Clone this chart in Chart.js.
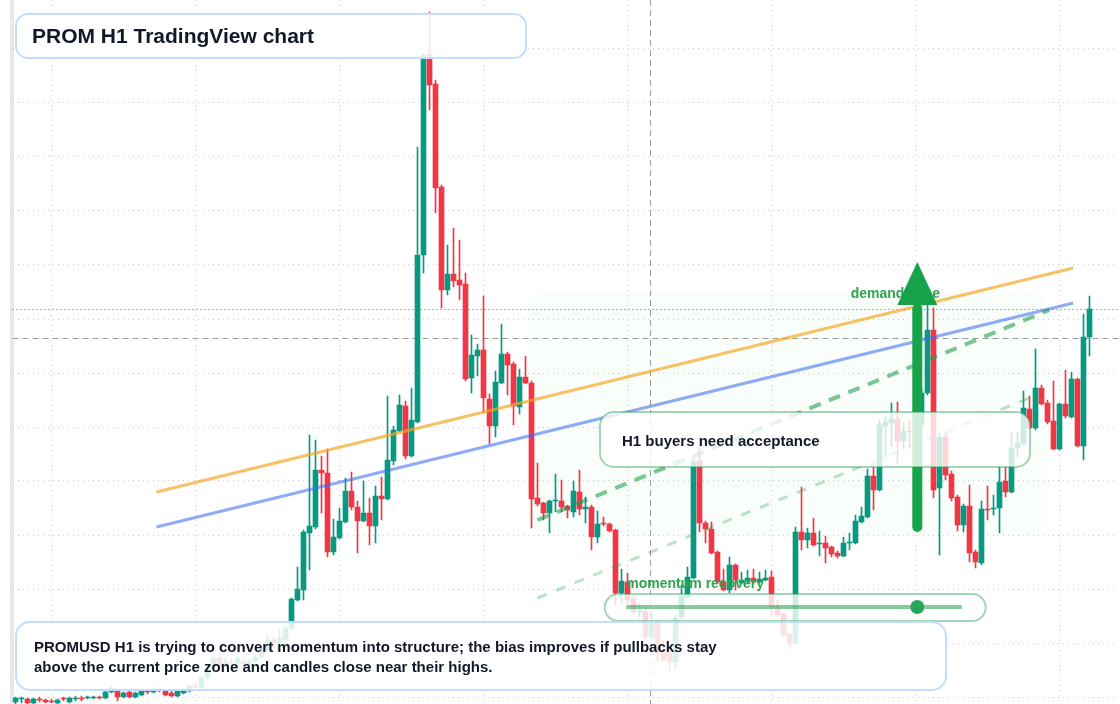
<!DOCTYPE html>
<html>
<head>
<meta charset="utf-8">
<title>PROM H1 TradingView chart</title>
<script src="https://cdn.jsdelivr.net/npm/chart.js@4.4.1/dist/chart.umd.min.js"></script>
<style>
  html, body { margin: 0; padding: 0; background: #ffffff; }
  #chart { display: block; }
</style>
</head>
<body>
<canvas id="chart" width="1120" height="704"></canvas>
<script>
// PROMUSD H1 candles, oldest first
let opens = [
  2.02, 2.05, 2.05, 2.01, 2.05, 2.04, 2.03, 2.01, 2.06, 2.02,
  2.05, 2.06, 2.06, 2.06, 2.07, 2.06, 2.12, 2.13, 2.07, 2.12,
  2.07, 2.09, 2.13, 2.12, 2.15, 2.13, 2.11, 2.08, 2.11, 2.13,
  2.18, 2.17, 2.26, 2.37, 2.46, 2.39, 2.41, 2.39, 2.42, 2.39,
  2.43, 2.47, 2.54, 2.64, 2.61, 2.64, 2.76, 3.04, 3.14, 3.71,
  3.77, 4.34, 4.31, 3.52, 3.66, 3.82, 4.13, 3.97, 3.83, 3.91,
  3.78, 4.08, 4.05, 4.43, 4.73, 4.98, 4.48, 4.82, 6.49, 8.51,
  8.20, 7.17, 6.14, 6.30, 6.24, 6.20, 5.26, 5.48, 5.54, 5.05,
  4.78, 5.21, 5.50, 5.40, 4.97, 5.27, 5.21, 4.06, 4.01, 3.91,
  4.03, 4.03, 3.98, 3.92, 4.12, 3.95, 3.97, 3.67, 3.81, 3.80,
  3.74, 3.11, 3.22, 3.05, 2.92, 2.92, 2.67, 2.82, 2.52, 2.51,
  2.42, 2.87, 3.07, 3.26, 4.43, 3.81, 3.75, 3.52, 3.22, 3.14,
  3.39, 3.21, 3.23, 3.26, 3.22, 3.24, 3.27, 2.97, 2.90, 2.70,
  2.61, 3.72, 3.64, 3.71, 3.60, 3.61, 3.57, 3.51, 3.48, 3.61,
  3.61, 3.82, 3.87, 4.28, 4.14, 4.78, 4.81, 4.85, 4.63, 4.73,
  4.72, 4.79, 5.11, 5.74, 4.16, 4.67, 4.30, 4.07, 3.79, 3.98,
  3.52, 3.41, 3.95, 3.95, 3.96, 4.23, 4.12, 4.56, 4.60, 4.95,
  4.76, 5.16, 5.01, 4.83, 4.55, 5.00, 4.87, 5.25, 4.58, 5.67
]
let highs = [
  2.07, 2.07, 2.06, 2.06, 2.07, 2.05, 2.05, 2.05, 2.07, 2.07,
  2.08, 2.08, 2.08, 2.08, 2.08, 2.13, 2.18, 2.15, 2.12, 2.13,
  2.12, 2.14, 2.15, 2.16, 2.17, 2.15, 2.13, 2.14, 2.15, 2.19,
  2.21, 2.28, 2.34, 2.48, 2.52, 2.47, 2.45, 2.48, 2.45, 2.45,
  2.49, 2.56, 2.69, 2.67, 2.74, 2.78, 3.06, 3.37, 3.74, 4.69,
  4.64, 4.48, 4.55, 3.85, 3.96, 4.26, 4.32, 4.03, 4.23, 4.06,
  4.18, 4.27, 5.08, 4.78, 5.09, 5.03, 5.16, 7.57, 8.51, 8.92,
  8.24, 7.19, 6.59, 6.76, 6.64, 6.31, 5.69, 5.60, 6.08, 5.10,
  5.33, 5.80, 5.52, 5.42, 5.35, 5.48, 5.23, 4.41, 4.02, 4.04,
  4.30, 4.24, 3.99, 4.23, 4.34, 4.07, 3.99, 3.93, 3.87, 3.81,
  3.75, 3.35, 3.31, 3.08, 3.01, 2.97, 2.91, 2.84, 2.64, 2.54,
  2.89, 3.19, 3.37, 4.47, 4.58, 3.83, 3.82, 3.53, 3.35, 3.47,
  3.40, 3.32, 3.34, 3.35, 3.32, 3.34, 3.33, 3.04, 2.91, 2.71,
  3.77, 4.17, 3.76, 3.86, 3.73, 3.68, 3.58, 3.53, 3.67, 3.71,
  3.89, 3.97, 4.35, 4.41, 4.84, 4.88, 5.01, 5.02, 4.81, 4.84,
  4.89, 5.16, 5.99, 5.96, 4.71, 4.71, 4.33, 4.09, 4.00, 4.19,
  3.54, 4.03, 4.18, 4.09, 4.37, 4.37, 4.71, 4.72, 5.13, 5.08,
  5.55, 5.19, 5.04, 5.23, 5.01, 5.34, 5.32, 5.26, 5.90, 6.08
]
let lows = [
  2.00, 2.01, 2.00, 2.00, 2.02, 2.01, 2.01, 2.00, 2.03, 2.01,
  2.03, 2.03, 2.05, 2.05, 2.05, 2.05, 2.11, 2.03, 2.06, 2.06,
  2.06, 2.08, 2.10, 2.11, 2.12, 2.08, 2.07, 2.07, 2.10, 2.12,
  2.16, 2.15, 2.24, 2.36, 2.35, 2.37, 2.39, 2.38, 2.36, 2.38,
  2.42, 2.46, 2.52, 2.56, 2.59, 2.62, 2.74, 3.03, 3.04, 3.34,
  3.75, 3.91, 3.47, 3.49, 3.65, 3.81, 3.94, 3.51, 3.82, 3.59,
  3.61, 3.84, 4.04, 4.39, 4.72, 4.45, 4.47, 4.81, 6.31, 7.94,
  6.91, 5.96, 6.09, 6.17, 6.04, 5.23, 5.11, 5.28, 4.91, 4.60,
  4.67, 5.20, 5.09, 4.79, 4.90, 5.20, 3.76, 3.98, 3.84, 3.71,
  3.92, 3.92, 3.86, 3.87, 3.89, 3.81, 3.54, 3.61, 3.78, 3.72,
  2.99, 3.01, 3.00, 2.90, 2.87, 2.64, 2.64, 2.42, 2.43, 2.32,
  2.34, 2.86, 3.06, 3.25, 3.72, 3.61, 3.50, 3.21, 3.13, 3.11,
  3.14, 3.20, 3.21, 3.20, 3.21, 3.23, 2.89, 2.87, 2.67, 2.57,
  2.60, 3.54, 3.56, 3.58, 3.48, 3.41, 3.47, 3.46, 3.47, 3.54,
  3.60, 3.81, 3.86, 3.94, 4.13, 4.47, 4.58, 4.41, 4.55, 4.56,
  4.64, 4.74, 5.09, 4.06, 3.49, 4.24, 4.03, 3.73, 3.72, 3.42,
  3.36, 3.39, 3.84, 3.89, 3.71, 4.07, 4.11, 4.47, 4.59, 4.75,
  4.74, 4.99, 4.80, 4.54, 4.54, 4.86, 4.86, 4.57, 4.44, 5.48
]
let closes = [
  2.06, 2.06, 2.01, 2.05, 2.04, 2.02, 2.02, 2.04, 2.05, 2.06,
  2.06, 2.05, 2.07, 2.07, 2.06, 2.12, 2.16, 2.07, 2.11, 2.07,
  2.11, 2.13, 2.12, 2.15, 2.14, 2.09, 2.08, 2.13, 2.13, 2.18,
  2.17, 2.26, 2.32, 2.46, 2.37, 2.42, 2.42, 2.46, 2.40, 2.43,
  2.47, 2.54, 2.64, 2.61, 2.66, 2.76, 3.05, 3.15, 3.72, 3.78,
  4.34, 4.31, 3.52, 3.67, 3.83, 4.13, 3.97, 3.83, 3.91, 3.78,
  4.08, 4.05, 4.44, 4.74, 4.99, 4.48, 4.84, 6.49, 8.49, 8.19,
  7.16, 6.14, 6.30, 6.23, 6.19, 5.25, 5.49, 5.54, 5.06, 4.78,
  5.22, 5.50, 5.39, 4.98, 5.27, 5.21, 4.05, 4.00, 3.91, 4.03,
  4.04, 3.97, 3.94, 4.13, 3.95, 3.97, 3.67, 3.80, 3.80, 3.73,
  3.11, 3.23, 3.04, 2.92, 2.93, 2.67, 2.82, 2.51, 2.44, 2.42,
  2.86, 3.08, 3.27, 4.42, 3.81, 3.75, 3.51, 3.22, 3.14, 3.39,
  3.24, 3.24, 3.26, 3.22, 3.25, 3.26, 2.97, 2.89, 2.69, 2.61,
  3.72, 3.64, 3.71, 3.59, 3.61, 3.56, 3.50, 3.48, 3.61, 3.62,
  3.83, 3.88, 4.28, 4.14, 4.79, 4.82, 4.85, 4.63, 4.73, 4.72,
  4.79, 5.11, 5.74, 4.14, 4.67, 4.29, 4.06, 3.79, 3.98, 3.51,
  3.42, 3.95, 3.94, 3.96, 4.22, 4.12, 4.56, 4.61, 4.96, 4.76,
  5.16, 5.00, 4.82, 4.55, 5.00, 4.88, 5.25, 4.58, 5.67, 5.95
]

// hourly slots, a few empty ones on the right
let slotCount = 184
let labels = []
let t0 = Date.UTC(2024, 10, 4, 0)
for (let i = 0; i < slotCount; i++) {
    labels.push(new Date(t0 + i * 3600000).toISOString().slice(5, 13).replace("T", " ") + ":00")
}

// grid positions (candle index / price)
let xGridIdx = [6, 30, 54, 78, 102, 126, 150, 174]
let yGridPrices = [8.55, 8.01, 7.47, 6.93, 6.39, 5.85, 5.31, 4.77, 4.23, 3.69, 3.15, 2.61, 2.07]

// drawings in data space: [candle index, price]
let orangeLine = [[23.5, 4.12], [176.3, 6.36]]
let blueLine = [[23.5, 3.77], [176.3, 6.01]]
let greenDash = [[87, 3.84], [172.3, 5.94]]
let greenDashLight = [[87, 3.06], [169, 5.06]]
let demandZone = { x0: 85.2, x1: 172.3, top: 6.12, bottom: 3.69 }
let demandArrow = { idx: 150.3, from: 3.77, head: 5.99, tip: 6.42 }
let momentum = { x0: 98.2, x1: 161.7, top: 3.10, bottom: 2.83, line0: 101.8, line1: 157.7, lineY: 2.97, dot: 150.3, labelY: 3.20 }
let crosshair = { idx: 105.8, price: 5.66 }

let UP = "#089981"
let DOWN = "#f23645"
let FONT = '"Liberation Sans", Arial, sans-serif'

let candleColors = opens.map((o, i) => closes[i] >= o ? UP : DOWN)

function roundRect(ctx, x, y, w, h, r) {
    ctx.beginPath()
    ctx.moveTo(x + r, y)
    ctx.arcTo(x + w, y, x + w, y + h, r)
    ctx.arcTo(x + w, y + h, x, y + h, r)
    ctx.arcTo(x, y + h, x, y, r)
    ctx.arcTo(x, y, x + w, y, r)
    ctx.closePath()
}

function segment(chart, pts, color, width, dash) {
    let { ctx, scales: { x, y } } = chart
    ctx.save()
    ctx.strokeStyle = color
    ctx.lineWidth = width
    ctx.setLineDash(dash || [])
    ctx.beginPath()
    ctx.moveTo(x.getPixelForValue(pts[0][0]), y.getPixelForValue(pts[0][1]))
    ctx.lineTo(x.getPixelForValue(pts[1][0]), y.getPixelForValue(pts[1][1]))
    ctx.stroke()
    ctx.restore()
}

function panel(ctx, x, y, w, h, r, fill, stroke) {
    ctx.save()
    roundRect(ctx, x, y, w, h, r)
    ctx.fillStyle = fill
    ctx.fill()
    ctx.lineWidth = 2
    ctx.strokeStyle = stroke
    ctx.stroke()
    ctx.restore()
}

function text(ctx, str, x, y, font, color) {
    ctx.save()
    ctx.font = font
    ctx.fillStyle = color
    ctx.textBaseline = "middle"
    ctx.textAlign = "left"
    ctx.fillText(str, x, y)
    ctx.restore()
}

let overlay = {
    id: "overlay",
    beforeDraw(chart) {
        let ctx = chart.ctx
        ctx.save()
        ctx.fillStyle = "#ffffff"
        ctx.fillRect(0, 0, chart.width, chart.height)
        ctx.fillStyle = "#e8e8e8"
        ctx.fillRect(10, 0, 4, chart.height)
        ctx.restore()
    },
    beforeDatasetsDraw(chart) {
        let { ctx, chartArea: a, scales: { x, y } } = chart
        ctx.save()
        // demand zone shading
        let zx0 = x.getPixelForValue(demandZone.x0), zx1 = x.getPixelForValue(demandZone.x1)
        let zy0 = y.getPixelForValue(demandZone.top), zy1 = y.getPixelForValue(demandZone.bottom)
        roundRect(ctx, zx0, zy0, zx1 - zx0, zy1 - zy0, 22)
        ctx.fillStyle = "rgba(34,197,94,0.025)"
        ctx.fill()
        // last price line
        let py = Math.round(y.getPixelForValue(closes[closes.length - 1])) + 0.5
        ctx.strokeStyle = UP
        ctx.lineWidth = 1
        ctx.setLineDash([1, 3])
        ctx.beginPath()
        ctx.moveTo(a.left, py)
        ctx.lineTo(a.right + 4, py)
        ctx.stroke()
        // crosshair
        ctx.strokeStyle = "#9a9a9a"
        ctx.setLineDash([6, 4])
        let cy = Math.round(y.getPixelForValue(crosshair.price)) + 0.5
        ctx.beginPath()
        ctx.moveTo(a.left, cy)
        ctx.lineTo(a.right + 4, cy)
        ctx.stroke()
        let cx = Math.round(x.getPixelForValue(crosshair.idx)) + 0.5
        ctx.beginPath()
        ctx.moveTo(cx, a.top)
        ctx.lineTo(cx, a.bottom)
        ctx.stroke()
        ctx.restore()
    },
    afterDatasetsDraw(chart) {
        let { ctx, scales: { x, y } } = chart
        // trend lines
        segment(chart, orangeLine, "rgba(245,166,35,0.7)", 3)
        segment(chart, blueLine, "rgba(59,110,240,0.58)", 3)
        segment(chart, greenDash, "rgba(34,160,80,0.6)", 4, [12, 9])
        segment(chart, greenDashLight, "rgba(34,160,80,0.3)", 3, [10, 10])

        // demand zone label, arrow over it
        text(ctx, "demand zone", x.getPixelForValue(139.2), y.getPixelForValue(6.11) + 1, "bold 14px " + FONT, "#2ea44f")
        let ax = x.getPixelForValue(demandArrow.idx)
        let aBottom = y.getPixelForValue(demandArrow.from)
        let aHead = y.getPixelForValue(demandArrow.head)
        let aTip = y.getPixelForValue(demandArrow.tip)
        ctx.save()
        ctx.strokeStyle = "#16a34a"
        ctx.fillStyle = "#16a34a"
        ctx.lineWidth = 10
        ctx.lineCap = "round"
        ctx.beginPath()
        ctx.moveTo(ax, aBottom)
        ctx.lineTo(ax, aHead + 4)
        ctx.stroke()
        ctx.beginPath()
        ctx.moveTo(ax - 20, aHead)
        ctx.lineTo(ax, aTip)
        ctx.lineTo(ax + 20, aHead)
        ctx.closePath()
        ctx.fill()
        ctx.restore()

        // H1 buyers box
        panel(ctx, 600, 412, 430, 55, 14, "rgba(255,255,255,0.8)", "rgba(34,160,80,0.42)")
        text(ctx, "H1 buyers need acceptance", 622, 442, "bold 15px " + FONT, "#111827")

        // momentum pill
        let mx0 = x.getPixelForValue(momentum.x0), mx1 = x.getPixelForValue(momentum.x1)
        let my0 = y.getPixelForValue(momentum.top), my1 = y.getPixelForValue(momentum.bottom)
        panel(ctx, mx0, my0, mx1 - mx0, my1 - my0, (my1 - my0) / 2, "rgba(255,255,255,0.8)", "rgba(34,160,80,0.42)")
        let ly = y.getPixelForValue(momentum.lineY)
        ctx.save()
        ctx.strokeStyle = "rgba(34,160,80,0.55)"
        ctx.lineWidth = 4
        ctx.beginPath()
        ctx.moveTo(x.getPixelForValue(momentum.line0), ly)
        ctx.lineTo(x.getPixelForValue(momentum.line1), ly)
        ctx.stroke()
        ctx.fillStyle = "#27a55a"
        ctx.beginPath()
        ctx.arc(x.getPixelForValue(momentum.dot), ly, 7, 0, Math.PI * 2)
        ctx.fill()
        ctx.restore()
        text(ctx, "momentum recovery", x.getPixelForValue(momentum.line0), y.getPixelForValue(momentum.labelY), "bold 14px " + FONT, "#2ea44f")

        // note box
        panel(ctx, 16, 622, 930, 68, 14, "rgba(255,255,255,0.86)", "rgba(191,219,254,0.95)")
        text(ctx, "PROMUSD H1 is trying to convert momentum into structure; the bias improves if pullbacks stay", 34, 648, "bold 15px " + FONT, "#111827")
        text(ctx, "above the current price zone and candles close near their highs.", 34, 668, "bold 15px " + FONT, "#111827")

        // title box
        panel(ctx, 16, 14, 510, 44, 12, "rgba(255,255,255,0.88)", "rgba(191,219,254,0.95)")
        text(ctx, "PROM H1 TradingView chart", 32, 37, "bold 21px " + FONT, "#111827")
    }
}

let ctx = document.getElementById("chart")
let priceChart = new Chart(ctx, {
    type: "bar",
    data: {
        labels: labels,
        datasets: [{
            label: "body",
            data: opens.map((o, i) => [o, closes[i]]),
            backgroundColor: candleColors,
            barThickness: 5,
            minBarLength: 1,
            grouped: false,
            borderWidth: 0,
            order: 1
        }, {
            label: "wick",
            data: lows.map((l, i) => [l, highs[i]]),
            backgroundColor: candleColors,
            barThickness: 1,
            grouped: false,
            borderWidth: 0,
            order: 2
        }]
    },
    options: {
        responsive: false,
        animation: false,
        devicePixelRatio: 1,
        layout: { padding: { left: 12.5, right: 3.5, top: 0, bottom: 0 } },
        plugins: { legend: { display: false }, tooltip: { enabled: false } },
        scales: {
            x: {
                type: "category",
                offset: true,
                grid: { offset: false, color: "rgba(0,0,0,0.2)", drawTicks: false },
                border: { display: false, dash: [1, 4] },
                ticks: { display: false },
                afterBuildTicks: (axis) => { axis.ticks = xGridIdx.map(v => ({ value: v })) },
                afterFit: (axis) => { axis.height = 0 }
            },
            y: {
                type: "linear",
                min: 2.0,
                max: 9.04,
                bounds: "data",
                grid: { color: "rgba(0,0,0,0.2)", drawTicks: false },
                border: { display: false, dash: [1, 4] },
                ticks: { display: false },
                afterBuildTicks: (axis) => { axis.ticks = yGridPrices.map(v => ({ value: v })) },
                afterFit: (axis) => { axis.width = 0 }
            }
        }
    },
    plugins: [overlay]
})
</script>
</body>
</html>
